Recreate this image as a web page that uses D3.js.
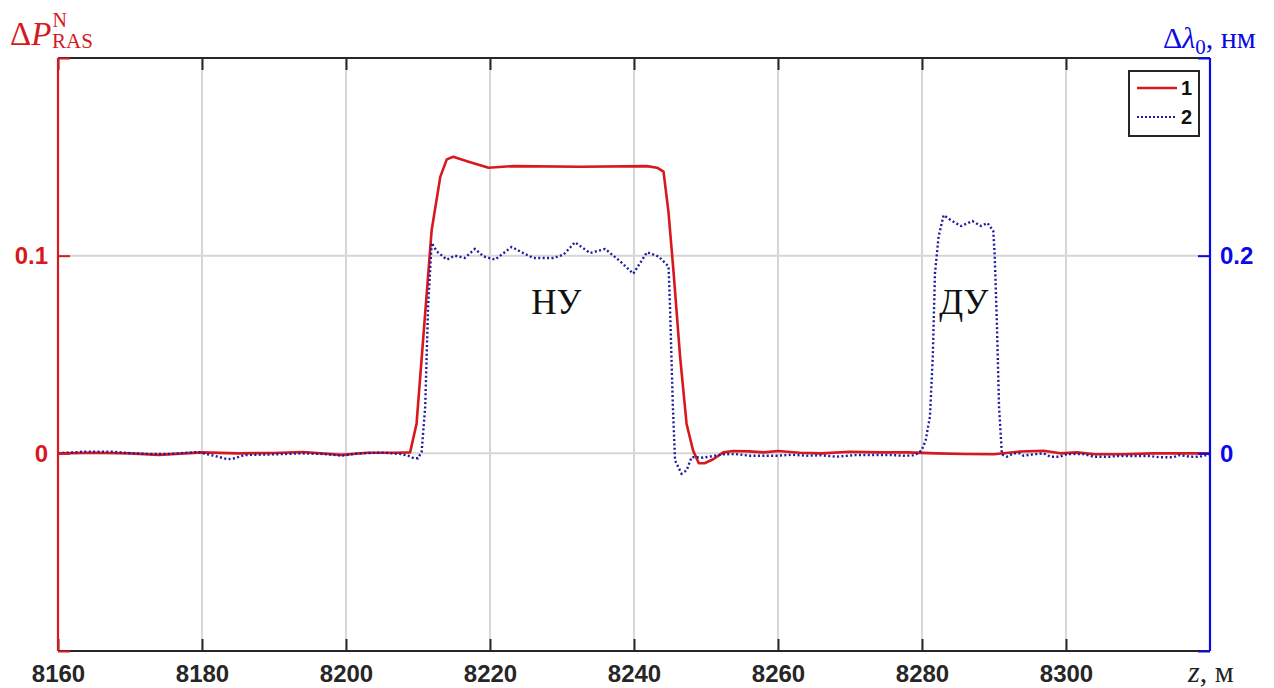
<!DOCTYPE html>
<html>
<head>
<meta charset="utf-8">
<script src="https://cdn.jsdelivr.net/npm/d3@7"></script>
<style>
  html, body { margin: 0; padding: 0; background: #fff; }
  svg { display: block; }
  .tick-lbl { font-family: "Liberation Sans", Arial, sans-serif; font-weight: bold; font-size: 24px; }
  .serif { font-family: "Liberation Serif", "DejaVu Serif", serif; }
</style>
</head>
<body>
<svg id="chart" width="1274" height="688"></svg>
<script>
// Distance along the fibre, m
const xTicks = [8160, 8180, 8200, 8220, 8240, 8260, 8280, 8300];
const yLeftTicks = [-0.1, 0, 0.1, 0.2];
const yLeftLabels = ["", "0", "0.1", ""];
const yRightTicks = [-0.2, 0, 0.2, 0.4];
const yRightLabels = ["", "0", "0.2", ""];

// Curve 1: normalised anti-Stokes power change
const zRed = [8160, 8165, 8170, 8174, 8180, 8185, 8190, 8194, 8199.4, 8203, 8207, 8208.9,
  8209.8, 8210.7, 8211.9, 8213.1, 8214.0, 8214.9, 8216.8, 8219.8, 8223.2, 8232.5, 8241.8,
  8243.2, 8244.1, 8244.8, 8245.5, 8246.4, 8247.3, 8248.2, 8249.0, 8249.8, 8251.0, 8252.4,
  8253.8, 8256, 8258, 8260, 8263, 8266, 8270, 8274, 8278, 8282, 8286, 8290, 8293.6,
  8296.9, 8299.2, 8301.5, 8304, 8308, 8312, 8316, 8320];
const pRed = [0.0, 0.0003, 0.0, -0.0008, 0.0005, 0.0, 0.0002, 0.0007, -0.0008, 0.0003, 0.0003, 0.0005,
  0.015, 0.057, 0.113, 0.140, 0.1487, 0.150, 0.1478, 0.1445, 0.1453, 0.1450, 0.1453,
  0.1445, 0.1425, 0.1217, 0.0914, 0.0489, 0.015, 0.0015, -0.005, -0.005, -0.003, 0.0005,
  0.0012, 0.001, 0.0005, 0.0012, 0.0003, 0.0, 0.0008, 0.0005, 0.0005, 0.0, -0.0003, -0.0005, 0.0009,
  0.0013, 0.0, 0.0005, -0.0005, -0.0005, 0.0, 0.0, 0.0];

// Curve 2: Brillouin frequency shift expressed as wavelength shift, nm
const zBlue = [8160, 8163.7, 8167.4, 8170.2, 8173, 8175.3, 8179.4, 8182.2, 8183.6, 8184.5, 8185.9,
  8190.1, 8193.8, 8197, 8199.4, 8201.7, 8205.1, 8207.7, 8208.6, 8209.4, 8210.0, 8210.5,
  8211.0, 8211.4, 8211.9, 8212.6, 8214.0, 8215.1, 8216.5, 8217.9, 8219.1, 8220.7, 8223.0,
  8224.6, 8226.0, 8228.8, 8230.2, 8231.8, 8233.9, 8236.0, 8238.1, 8239.9, 8241.8, 8243.4,
  8244.8, 8245.0, 8245.4, 8245.7, 8246.6, 8247.3, 8248.0, 8248.8, 8249.6, 8252.4, 8254,
  8256.1, 8259.8, 8262, 8264, 8266, 8268.1, 8270.9, 8273, 8275.6, 8277.5, 8279.0, 8279.95,
  8280.5, 8281.1, 8281.5, 8281.8, 8282.3, 8283.0, 8284.0, 8285.4, 8287.0, 8288.2, 8289.1,
  8289.9, 8290.1, 8290.4, 8290.7, 8291.1, 8291.8, 8292.7, 8293.6, 8294.1, 8295.5, 8296.9,
  8297.8, 8299.2, 8300.1, 8302.4, 8303.8, 8306.1, 8307, 8311.6, 8313, 8314.9, 8315.8,
  8317.2, 8318.6, 8319.5, 8320];
const lamBlue = [0.0, 0.0017, 0.0017, 0.0, -0.0007, -0.0007, 0.0013, -0.0034, -0.006, -0.005, -0.0017,
  -0.001, 0.0, -0.0007, -0.0024, 0.0, 0.0007, -0.0007, -0.0024, -0.005, -0.005, 0.0013,
  0.047, 0.1485, 0.2129, 0.2044, 0.196, 0.2, 0.1977, 0.2068, 0.1993, 0.196, 0.2088,
  0.2027, 0.1977, 0.1977, 0.201, 0.2135, 0.2027, 0.2068, 0.1942, 0.1817, 0.2034, 0.1993,
  0.1891, 0.1485, 0.047, -0.0071, -0.0206, -0.0173, -0.0038, -0.004, -0.0044, -0.001, -0.0007,
  -0.0024, -0.0024, -0.0015, -0.0024, -0.002, -0.0034, -0.0017, -0.0017, -0.0017, -0.0024, -0.002, 0.003,
  0.013, 0.037, 0.098, 0.182, 0.219, 0.241, 0.236, 0.230, 0.235, 0.230, 0.233,
  0.225, 0.1997, 0.132, 0.047, -0.001, -0.0034, 0.0, 0.0, -0.0024, -0.001, 0.0,
  -0.0034, -0.0034, -0.0007, -0.0007, -0.0034, -0.0034, -0.0027, -0.0027, -0.004, -0.004, -0.0017,
  -0.0034, -0.0034, -0.0017, -0.0017];

const legendLabels = ["1", "2"];
const zoneLabels = [{ text: "НУ", z: 8229.2, v: 0.0703 }, { text: "ДУ", z: 8285.8, v: 0.0703 }];

const RED = "#d7191f";
const NAVY = "#1c1c9c";
const BLUE = "#0a0ae6";

const svg = d3.select("#chart");
const plotL = 58, plotR = 1210, plotT = 58, plotB = 651;

const x = d3.scaleLinear().domain([8160, 8320]).range([plotL, plotR]);
const yL = d3.scaleLinear().domain([-0.1, 0.2]).range([plotB, plotT]);
const yR = d3.scaleLinear().domain([-0.2, 0.4]).range([plotB, plotT]);

// grid
const grid = svg.append("g").attr("stroke", "#d6d6d6").attr("stroke-width", 2);
xTicks.slice(1).forEach(t => grid.append("line")
  .attr("x1", x(t)).attr("x2", x(t)).attr("y1", plotT).attr("y2", plotB));
[0, 0.1].forEach(t => grid.append("line")
  .attr("x1", plotL).attr("x2", plotR).attr("y1", yL(t)).attr("y2", yL(t)));

// curves
const redData = zRed.map((z, i) => [z, pRed[i]]);
const blueData = zBlue.map((z, i) => [z, lamBlue[i]]);

svg.append("path").datum(redData)
  .attr("fill", "none").attr("stroke", RED).attr("stroke-width", 2.6)
  .attr("stroke-linejoin", "round")
  .attr("d", d3.line().x(d => x(d[0])).y(d => yL(d[1])));

svg.append("path").datum(blueData)
  .attr("fill", "none").attr("stroke", NAVY).attr("stroke-width", 2.4)
  .attr("stroke-dasharray", "2,2.4")
  .attr("d", d3.line().x(d => x(d[0])).y(d => yR(d[1])));

// zone labels
zoneLabels.forEach(l => svg.append("text").attr("class", "serif")
  .attr("x", x(l.z)).attr("y", yL(l.v))
  .attr("text-anchor", "middle").attr("font-size", 35).attr("fill", "#111")
  .text(l.text));

// bottom axis
const xAxis = d3.axisBottom(x).tickValues(xTicks).tickSize(-12).tickPadding(14).tickFormat(d3.format("d"));
const gx = svg.append("g").attr("transform", `translate(0,${plotB})`).call(xAxis);
gx.select(".domain").attr("stroke", "#262626").attr("stroke-width", 2.2).attr("d", `M${plotL},0H${plotR}`);
gx.selectAll(".tick line").attr("stroke", "#262626").attr("stroke-width", 2);
gx.selectAll(".tick text").attr("class", "tick-lbl").attr("fill", "#262626").attr("font-size", null);

// top axis
const xTop = d3.axisTop(x).tickValues(xTicks).tickSize(-12).tickFormat("");
const gt = svg.append("g").attr("transform", `translate(0,${plotT})`).call(xTop);
gt.select(".domain").attr("stroke", "#262626").attr("stroke-width", 2.2).attr("d", `M${plotL},0H${plotR}`);
gt.selectAll(".tick line").attr("stroke", "#262626").attr("stroke-width", 2);

// left axis
const yAxisL = d3.axisLeft(yL).tickValues(yLeftTicks).tickSize(-12).tickPadding(10)
  .tickFormat((d, i) => yLeftLabels[i]);
const gl = svg.append("g").attr("transform", `translate(${plotL},0)`).call(yAxisL);
gl.select(".domain").attr("stroke", RED).attr("stroke-width", 2.2).attr("d", `M0,${plotT}V${plotB}`);
gl.selectAll(".tick line").attr("stroke", RED).attr("stroke-width", 2);
gl.selectAll(".tick text").attr("class", "tick-lbl").attr("fill", RED).attr("font-size", null);

// right axis
const yAxisR = d3.axisRight(yR).tickValues(yRightTicks).tickSize(-12).tickPadding(10)
  .tickFormat((d, i) => yRightLabels[i]);
const gr = svg.append("g").attr("transform", `translate(${plotR},0)`).call(yAxisR);
gr.select(".domain").attr("stroke", BLUE).attr("stroke-width", 2.2).attr("d", `M0,${plotT}V${plotB}`);
gr.selectAll(".tick line").attr("stroke", BLUE).attr("stroke-width", 2);
gr.selectAll(".tick text").attr("class", "tick-lbl").attr("fill", BLUE).attr("font-size", null);

// axis titles
const tl = svg.append("text").attr("class", "serif").attr("x", 10).attr("y", 45).attr("fill", RED);
tl.append("tspan").attr("font-size", 33).text("Δ");
tl.append("tspan").attr("font-size", 33).attr("font-style", "italic").text("P");
tl.append("tspan").attr("font-size", 20).attr("dx", 1).attr("dy", -18).text("N");
tl.append("tspan").attr("font-size", 21).attr("x", 52).attr("dy", 21).text("RAS");

const tr = svg.append("text").attr("class", "serif").attr("x", 1163).attr("y", 48).attr("fill", BLUE);
tr.append("tspan").attr("font-size", 30).text("Δ");
tr.append("tspan").attr("font-size", 30).attr("font-style", "italic").text("λ");
tr.append("tspan").attr("font-size", 21).attr("dy", 6).text("0");
tr.append("tspan").attr("font-size", 30).attr("dy", -6).text(", нм");

const xl = svg.append("text").attr("class", "serif").attr("x", 1188).attr("y", 682).attr("fill", "#222");
xl.append("tspan").attr("font-size", 30).attr("font-style", "italic").text("z");
xl.append("tspan").attr("font-size", 30).text(", м");

// legend
const lg = svg.append("g");
lg.append("rect").attr("x", 1129).attr("y", 71).attr("width", 70).attr("height", 65)
  .attr("fill", "#fff").attr("stroke", "#262626").attr("stroke-width", 2);
const legendStyles = [
  { stroke: RED, dash: null, w: 2.6 },
  { stroke: NAVY, dash: "2,2", w: 2.2 }
];
legendLabels.forEach((lab, i) => {
  const yy = 88 + i * 29;
  lg.append("line").attr("x1", 1137).attr("x2", 1177).attr("y1", yy).attr("y2", yy)
    .attr("stroke", legendStyles[i].stroke).attr("stroke-width", legendStyles[i].w)
    .attr("stroke-dasharray", legendStyles[i].dash);
  lg.append("text").attr("x", 1181).attr("y", yy + 7)
    .attr("font-family", "Liberation Sans, Arial, sans-serif").attr("font-weight", "bold")
    .attr("font-size", 20).attr("fill", "#111").text(lab);
});
</script>
</body>
</html>
